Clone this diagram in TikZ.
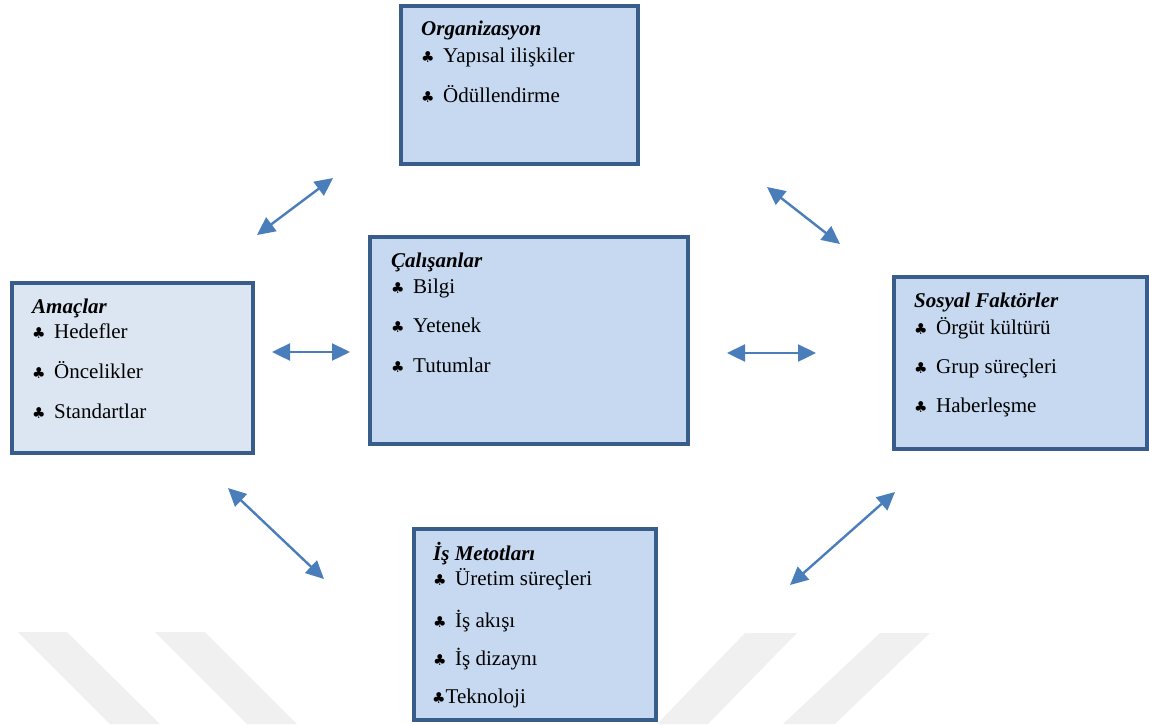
\documentclass[tikz,border=0pt]{standalone}
\usepackage{fontspec}
\setmainfont{Liberation Serif}
\newfontfamily\symfont{DejaVu Sans}
\usetikzlibrary{arrows.meta}
\definecolor{boxborder}{HTML}{385D8A}
\definecolor{boxfill}{HTML}{C6D9F1}
\definecolor{boxfilllight}{HTML}{DCE6F2}
\definecolor{arrowblue}{HTML}{4A7EBB}
\definecolor{wmark}{HTML}{F0F0F0}
\newcommand\clubmark[1]{\makebox[#1][l]{\symfont\fontsize{15}{15}\selectfont ♣}}
\begin{document}
\begin{tikzpicture}[x=1pt,y=-1pt,
  every node/.style={font=\fontsize{21}{25}\selectfont},
  box/.style={draw=boxborder, line width=4pt, fill=boxfill, rectangle, inner sep=0pt, anchor=north west},
  lightbox/.style={box, fill=boxfilllight},
  title/.style={inner sep=0pt, anchor=base west, font=\fontsize{21}{25}\selectfont\bfseries\itshape},
  item/.style={inner sep=0pt, anchor=base west},
  biarrow/.style={draw=arrowblue, line width=2.4pt, {Triangle[length=18pt,width=17pt]}-{Triangle[length=18pt,width=17pt]}}
]
\useasboundingbox (0,0) rectangle (1149,724);
% watermark stripes
\fill[wmark] (18,632) -- (67,632) -- (160,724) -- (110,724) -- cycle;
\fill[wmark] (155,632) -- (205,632) -- (297,724) -- (247,724) -- cycle;
\fill[wmark] (745,633) -- (797,633) -- (708,724) -- (657,724) -- cycle;
\fill[wmark] (880,633) -- (930,633) -- (835,724) -- (783,724) -- cycle;

% boxes
\node[box, minimum width=237pt, minimum height=158pt] (org) at (399,4) {};
\node[lightbox, minimum width=241pt, minimum height=170pt] (amac) at (10,281) {};
\node[box, minimum width=318pt, minimum height=207pt] (calis) at (368,235) {};
\node[box, minimum width=253pt, minimum height=172pt] (sosyal) at (892,275) {};
\node[box, minimum width=242pt, minimum height=191pt] (is) at (412,527) {};

% Organizasyon
\node[title] (orgT) at (421,35) {Organizasyon};
\node[item] (org1) at (421,62) {\clubmark{22pt}Yapısal ilişkiler};
\node[item] (org2) at (421,102) {\clubmark{22pt}Ödüllendirme};

% Amaçlar
\node[title] (amacT) at (32,313) {Amaçlar};
\node[item] (amac1) at (32,338) {\clubmark{22pt}Hedefler};
\node[item] (amac2) at (32,378) {\clubmark{22pt}Öncelikler};
\node[item] (amac3) at (32,418) {\clubmark{22pt}Standartlar};

% Çalışanlar
\node[title] (calisT) at (391,267) {Çalışanlar};
\node[item] (calis1) at (391,293) {\clubmark{22pt}Bilgi};
\node[item] (calis2) at (391,332) {\clubmark{22pt}Yetenek};
\node[item] (calis3) at (391,372) {\clubmark{22pt}Tutumlar};

% Sosyal Faktörler
\node[title] (sosyalT) at (914,307) {Sosyal Faktörler};
\node[item] (sosyal1) at (914,334) {\clubmark{22pt}Örgüt kültürü};
\node[item] (sosyal2) at (914,373) {\clubmark{22pt}Grup süreçleri};
\node[item] (sosyal3) at (914,412) {\clubmark{22pt}Haberleşme};

% İş Metotları
\node[title] (isT) at (433,560) {İş Metotları};
\node[item] (is1) at (433,585) {\clubmark{22pt}Üretim süreçleri};
\node[item] (is2) at (433,627) {\clubmark{22pt}İş akışı};
\node[item] (is3) at (433,665) {\clubmark{22pt}İş dizaynı};
\node[item] (is4) at (432,703) {\clubmark{13.5pt}Teknoloji};

% arrow end points
\coordinate (oa1) at (333,178);
\coordinate (oa2) at (257,235);
\coordinate (os1) at (767,187);
\coordinate (os2) at (840,244);
\coordinate (ac1) at (272,352);
\coordinate (ac2) at (350,352);
\coordinate (cs1) at (727,353);
\coordinate (cs2) at (816,353);
\coordinate (ai1) at (228,488);
\coordinate (ai2) at (324,579);
\coordinate (is1a) at (790,585);
\coordinate (is2a) at (895,492);

\draw[biarrow] (oa1) -- (oa2);
\draw[biarrow] (os1) -- (os2);
\draw[biarrow] (ac1) -- (ac2);
\draw[biarrow] (cs1) -- (cs2);
\draw[biarrow] (ai1) -- (ai2);
\draw[biarrow] (is1a) -- (is2a);
\end{tikzpicture}
\end{document}
